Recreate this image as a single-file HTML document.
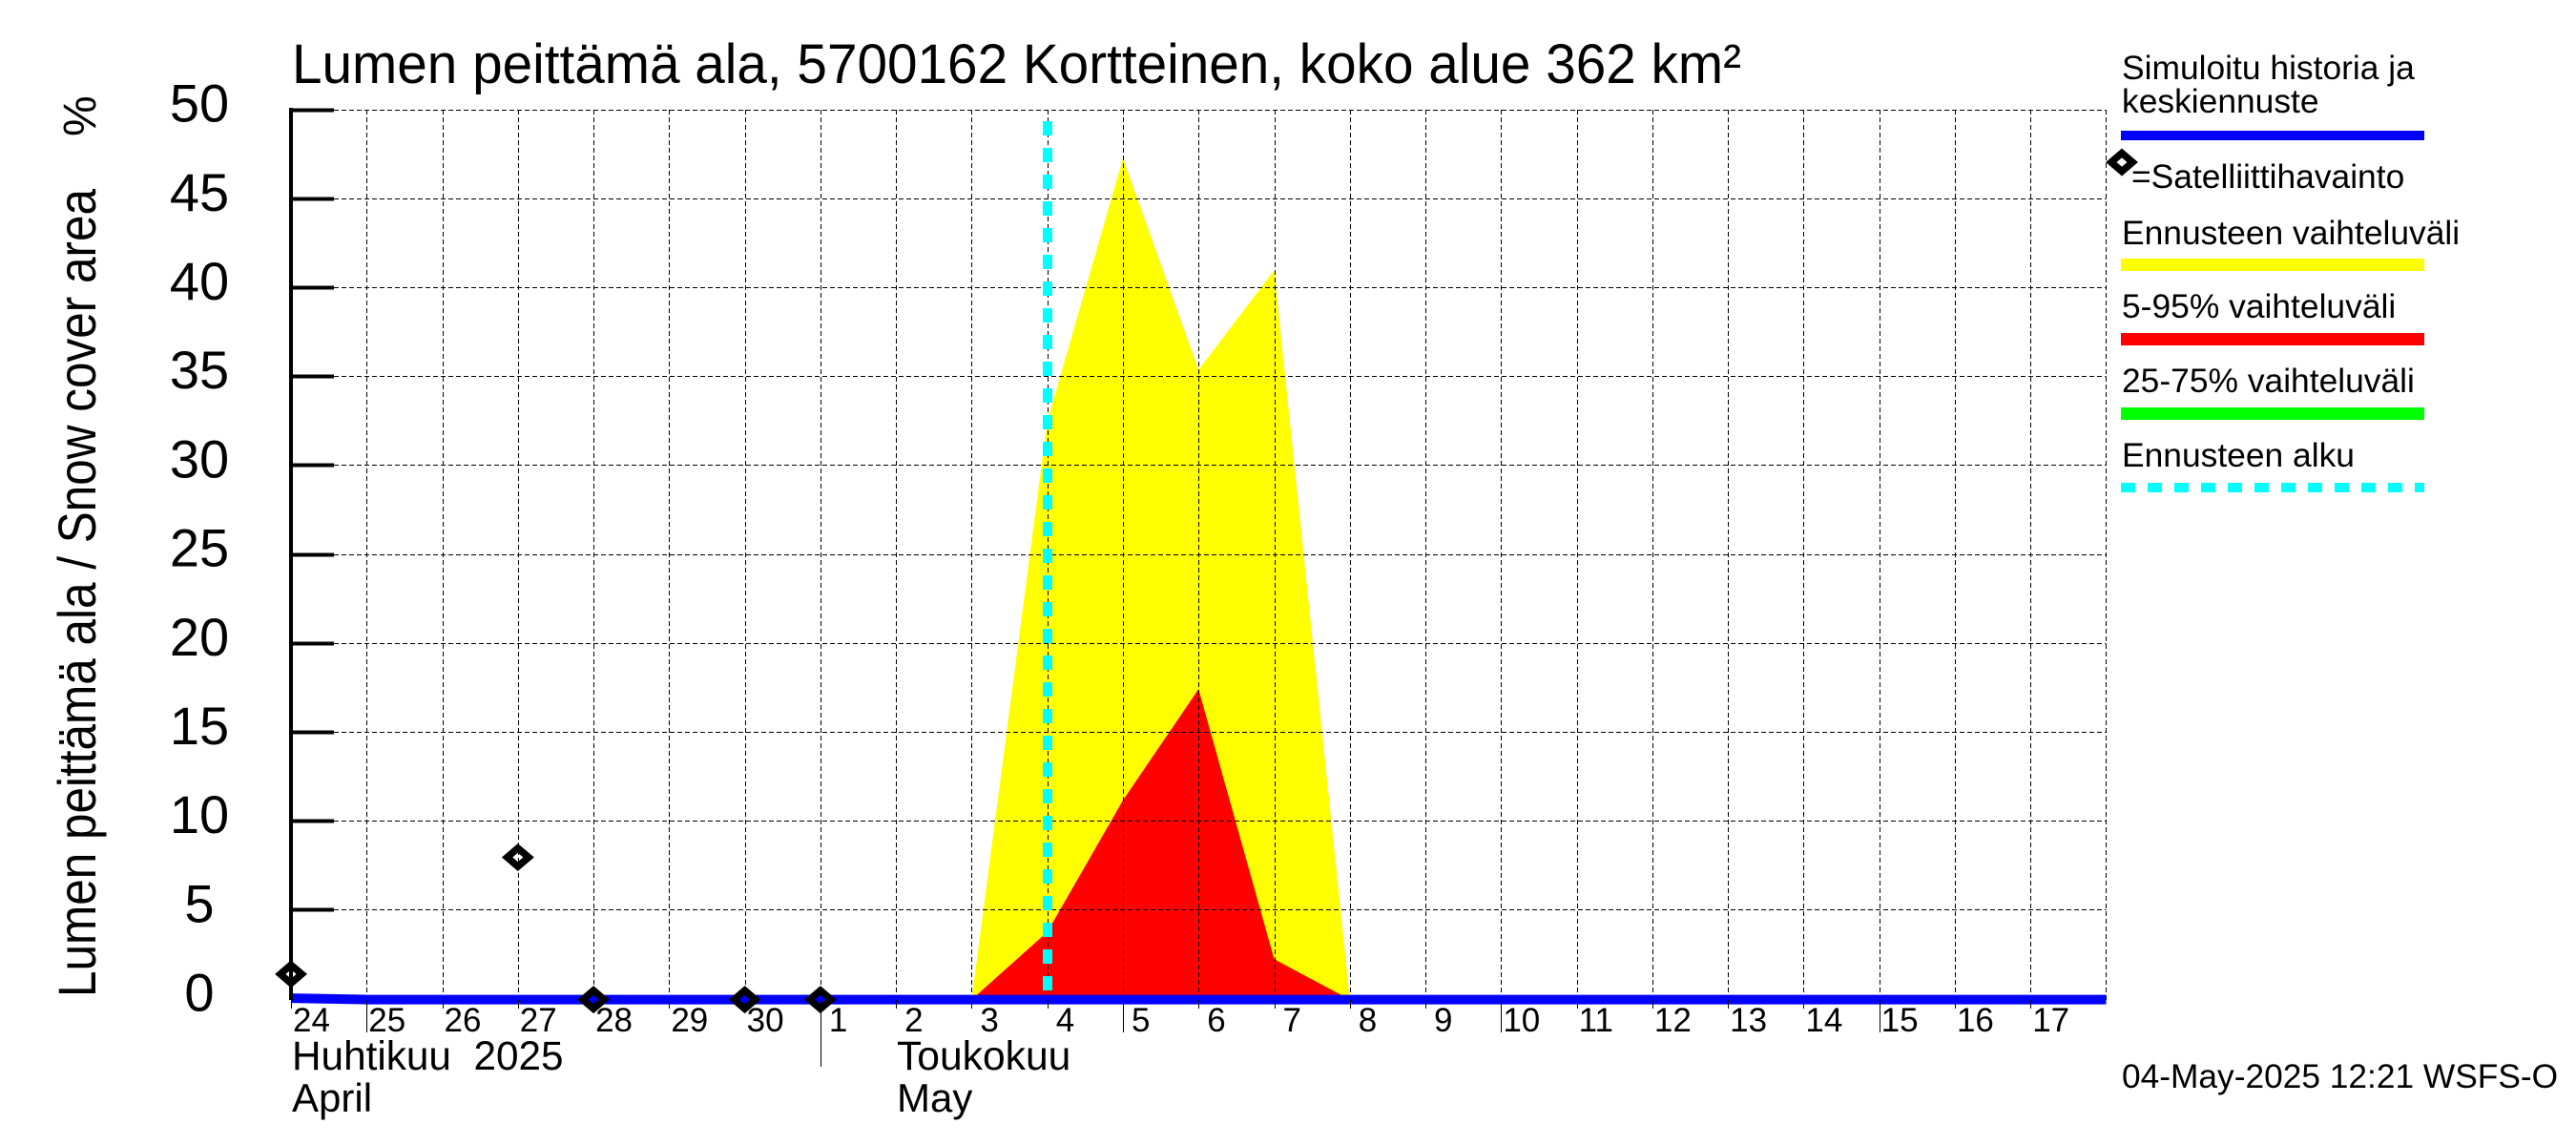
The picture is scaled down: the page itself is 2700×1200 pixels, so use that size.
<!DOCTYPE html>
<html lang="fi">
<head>
<meta charset="utf-8">
<title>Lumen peittämä ala</title>
<style>
html,body{margin:0;padding:0;background:#fff;}
svg{display:block;}
text{font-family:"Liberation Sans",sans-serif;fill:#000;}
</style>
</head>
<body>
<svg id="chart" xmlns="http://www.w3.org/2000/svg" width="2700" height="1200" viewBox="0 0 2700 1200">
  <rect x="0" y="0" width="2700" height="1200" fill="#fff"/>
  <g id="bands"></g>
  <g id="grid" shape-rendering="crispEdges"></g>
  <g id="start" shape-rendering="crispEdges"></g>
  <g id="history"></g>
  <g id="axes" shape-rendering="crispEdges"></g>
  <g id="labels"></g>
  <g id="obs"></g>

  <text x="306" y="87" font-size="58" textLength="1519" lengthAdjust="spacingAndGlyphs">Lumen peittämä ala, 5700162 Kortteinen, koko alue 362 km²</text>
  <text transform="translate(100,1045) rotate(-90)" font-size="56" textLength="847" lengthAdjust="spacingAndGlyphs">Lumen peittämä ala / Snow cover area</text>
  <text transform="translate(100,143) rotate(-90)" font-size="48">%</text>

  <text x="306" y="1121" font-size="42.3" xml:space="preserve">Huhtikuu  2025</text>
  <text x="306" y="1165" font-size="42">April</text>
  <text x="940" y="1121" font-size="42.6">Toukokuu</text>
  <text x="940" y="1165" font-size="42">May</text>

  <g>
    <text x="2224" y="83" font-size="35.4">Simuloitu historia ja</text>
    <text x="2224" y="118" font-size="35.4">keskiennuste</text>
    <rect x="2223" y="137" width="318" height="10" fill="#0000ff"/>
    <polygon points="2224,160.4 2235.25,170 2224,179.6 2212.75,170" fill="none" stroke="#000" stroke-width="7.4"/>
    <text x="2234" y="197" font-size="35.4">=Satelliittihavainto</text>
    <text x="2224" y="256" font-size="35.4">Ennusteen vaihteluväli</text>
    <rect x="2223" y="271" width="318" height="13" fill="#ffff00"/>
    <text x="2224" y="333" font-size="35.4">5-95% vaihteluväli</text>
    <rect x="2223" y="349" width="318" height="13" fill="#ff0000"/>
    <text x="2224" y="411" font-size="35.4">25-75% vaihteluväli</text>
    <rect x="2223" y="427" width="318" height="13" fill="#00ff00"/>
    <text x="2224" y="489" font-size="35.4">Ennusteen alku</text>
    <line x1="2223" y1="511" x2="2541" y2="511" stroke="#00ffff" stroke-width="10" stroke-dasharray="15 13"/>
  </g>

  <text x="2224" y="1140" font-size="35.3">04-May-2025 12:21 WSFS-O</text>
</svg>
<script>
// Chart data (x is days since 24 April 2025)
const dayLabels = [24,25,26,27,28,29,30,1,2,3,4,5,6,7,8,9,10,11,12,13,14,15,16,17];
const yTickValues = [0,5,10,15,20,25,30,35,40,45,50];
const longTickDays = [1,11,16,21];
const monthTickDays = [7];
const gridEndDay = 24;

const bandDays = [9,10,11,12,13,14];
const rangeUpper = [0,32.5,47.3,35.4,41.0,0];
const p95Upper = [0,3.8,11.2,17.45,2.27,0];

const historyDays = [0,1,2,3,4,5,6,7,8,9,10,11,12,13,14,15,16,17,18,19,20,21,22,23,24];
const historyValues = [0.08,0,0,0,0,0,0,0,0,0,0,0,0,0,0,0,0,0,0,0,0,0,0,0,0];

const obsDays = [0,3,4,6,7];
const obsValues = [1.43,8.0,0,0,0];

const forecastStartDay = 10;

// Axis functions
function xOf(d){ return 305 + 79.27 * d; }
function yOf(v){ return 1047.6 - 18.64 * v; }

const NS = 'http://www.w3.org/2000/svg';
function make(tag, parentId){
  const el = document.createElementNS(NS, tag);
  document.getElementById(parentId).appendChild(el);
  return el;
}
function bandPoints(days, values){
  const pts = days.map(function(d,i){ return xOf(d).toFixed(1)+','+yOf(values[i]).toFixed(1); });
  pts.push(xOf(days[days.length-1]).toFixed(1)+','+(yOf(0)+3).toFixed(1));
  pts.push(xOf(days[0]).toFixed(1)+','+(yOf(0)+3).toFixed(1));
  return pts.join(' ');
}

// Bands
const yellow = make('polygon','bands');


yellow.setAttribute('points', bandPoints(bandDays, rangeUpper));
yellow.setAttribute('fill', '#ffff00');

const red = make('polygon','bands');


red.setAttribute('points', bandPoints(bandDays, p95Upper));
red.setAttribute('fill', '#ff0000');

// Horizontal grid + y ticks
yTickValues.forEach(function(v){
  const y = Math.round(yOf(v)) - 0.5;
  if (v > 0) {
    const g = make('line','grid');
    
    
    g.setAttribute('x1', 350);
    g.setAttribute('x2', xOf(gridEndDay));
    g.setAttribute('y1', y);
    g.setAttribute('y2', y);
    g.setAttribute('stroke', '#000');
    g.setAttribute('stroke-width', 1);
    g.setAttribute('stroke-dasharray', '5 3');

    const t = make('line','axes');
    
    
    t.setAttribute('x1', 305);
    t.setAttribute('x2', 350);
    t.setAttribute('y1', y);
    t.setAttribute('y2', y);
    t.setAttribute('stroke', '#000');
    t.setAttribute('stroke-width', 4);
  }
  const l = make('text','labels');
  
  
  l.setAttribute('x', 209);
  l.setAttribute('y', yOf(v) + 12);
  l.setAttribute('font-size', 56);
  l.setAttribute('text-anchor', 'middle');
  l.textContent = v;
});

// Vertical grid + x ticks + day labels
dayLabels.forEach(function(label, d){
  const x = Math.round(xOf(d)) + 0.5;
  if (d > 0) {
    const g = make('line','grid');
    
    
    g.setAttribute('x1', x);
    g.setAttribute('x2', x);
    g.setAttribute('y1', 115);
    g.setAttribute('y2', 1057);
    g.setAttribute('stroke', '#000');
    g.setAttribute('stroke-width', 1);
    g.setAttribute('stroke-dasharray', '5 3');
  }
  const tickEnd = monthTickDays.indexOf(d) >= 0 ? 1118 : (longTickDays.indexOf(d) >= 0 ? 1082 : 1057);
  const t = make('line','axes');
  
  
  t.setAttribute('x1', x);
  t.setAttribute('x2', x);
  t.setAttribute('y1', 1048);
  t.setAttribute('y2', tickEnd);
  t.setAttribute('stroke', '#000');
  t.setAttribute('stroke-width', 1);

  const l = make('text','labels');
  
  
  l.setAttribute('x', xOf(d) + (String(label).length === 1 ? 9 : 2));
  l.setAttribute('y', 1081);
  l.setAttribute('font-size', 35);
  l.textContent = label;
});

// Right grid edge
const rightEdge = make('line','grid');


rightEdge.setAttribute('x1', Math.round(xOf(gridEndDay)) + 0.5);
rightEdge.setAttribute('x2', Math.round(xOf(gridEndDay)) + 0.5);
rightEdge.setAttribute('y1', 115);
rightEdge.setAttribute('y2', 1048);
rightEdge.setAttribute('stroke', '#000');
rightEdge.setAttribute('stroke-width', 1);
rightEdge.setAttribute('stroke-dasharray', '5 3');

// Y axis line
const yAxis = make('line','axes');


yAxis.setAttribute('x1', 305);
yAxis.setAttribute('x2', 305);
yAxis.setAttribute('y1', 113);
yAxis.setAttribute('y2', 1048);
yAxis.setAttribute('stroke', '#000');
yAxis.setAttribute('stroke-width', 4);

// Forecast start line
const startLine = make('line','start');


startLine.setAttribute('x1', xOf(forecastStartDay) + 0.3);
startLine.setAttribute('x2', xOf(forecastStartDay) + 0.3);
startLine.setAttribute('y1', 127);
startLine.setAttribute('y2', yOf(0));
startLine.setAttribute('stroke', '#00ffff');
startLine.setAttribute('stroke-width', 10);
startLine.setAttribute('stroke-dasharray', '15 13');

// History / mean line
const histLine = make('polyline','history');


histLine.setAttribute('points', historyDays.map(function(d,i){ return xOf(d).toFixed(1)+','+yOf(historyValues[i]).toFixed(1); }).join(' '));
histLine.setAttribute('fill', 'none');
histLine.setAttribute('stroke', '#0000ff');
histLine.setAttribute('stroke-width', 10);

// Satellite observations
obsDays.forEach(function(d,i){
  const cx = xOf(d), cy = yOf(obsValues[i]);
  const m = make('polygon','obs');
  
  
  m.setAttribute('points', [[0,-9.6],[11.25,0],[0,9.6],[-11.25,0]].map(function(o){ return (cx+o[0]).toFixed(1)+','+(cy+o[1]).toFixed(1); }).join(' '));
  m.setAttribute('fill', 'none');
  m.setAttribute('stroke', '#000');
  m.setAttribute('stroke-width', 7.4);
});
</script>
</body>
</html>
